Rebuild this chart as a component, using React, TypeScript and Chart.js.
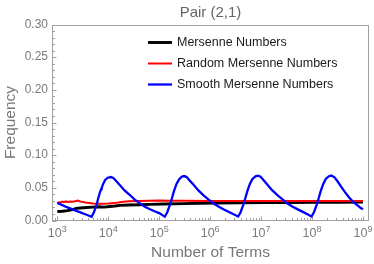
import React, { useEffect, useRef } from "react";
import { Chart, registerables } from "chart.js";

Chart.register(...registerables);

// ---- data (x given as log10 of number of terms) ----
const mersenneLogX = [3.0, 3.1, 3.2, 3.3, 3.37, 3.45, 3.57, 3.7, 3.83, 3.92, 4.03, 4.13, 4.23, 4.4, 4.6, 4.82, 5.1, 5.47, 5.8, 6.12, 6.6, 7.1, 7.6, 8.08, 8.5, 9.0];
const mersenneY = [0.0138, 0.0142, 0.0152, 0.0168, 0.0186, 0.0192, 0.02, 0.0205, 0.021, 0.0205, 0.0215, 0.0222, 0.0232, 0.0238, 0.0242, 0.0247, 0.0252, 0.0258, 0.0263, 0.0268, 0.0271, 0.0273, 0.0276, 0.0278, 0.028, 0.0283];

const randomLogX = [3.0, 3.03, 3.06, 3.1, 3.13, 3.17, 3.2, 3.25, 3.3, 3.35, 3.4, 3.45, 3.5, 3.55, 3.6, 3.7, 3.8, 3.9, 4.0, 4.1, 4.2, 4.3, 4.4, 4.6, 4.8, 5.0, 5.2, 5.5, 6.0, 7.0, 8.0, 9.0];
const randomY = [0.0265, 0.028, 0.0275, 0.029, 0.028, 0.0292, 0.0285, 0.029, 0.0288, 0.0296, 0.0305, 0.0292, 0.0285, 0.0275, 0.027, 0.026, 0.0256, 0.0258, 0.026, 0.0266, 0.0275, 0.0288, 0.0293, 0.0298, 0.0303, 0.0306, 0.0303, 0.0301, 0.0299, 0.0298, 0.0298, 0.0298];

const smoothLogX = [
  3.0, 3.2, 3.4, 3.55, 3.674,
  3.72, 3.77, 3.8, 3.84, 3.86, 3.87, 3.9, 3.94, 3.99, 4.05, 4.1, 4.16, 4.23, 4.32, 4.425, 4.52, 4.62, 4.72, 4.82, 4.92, 5.01, 5.07, 5.11,
  5.16, 5.21, 5.25, 5.29, 5.34, 5.39, 5.44, 5.49, 5.54, 5.6, 5.67, 5.77, 5.87, 5.97, 6.07, 6.17, 6.27, 6.37, 6.46, 6.55,
  6.6, 6.65, 6.69, 6.73, 6.78, 6.83, 6.89, 6.94, 6.99, 7.05, 7.12, 7.22, 7.32, 7.42, 7.52, 7.62, 7.72, 7.82, 7.91, 7.99,
  8.04, 8.09, 8.13, 8.17, 8.22, 8.27, 8.33, 8.38, 8.44, 8.5, 8.57, 8.65, 8.72, 8.8, 8.88, 8.95, 9.0,
];
const smoothY = [
  0.027, 0.02, 0.014, 0.0095, 0.0058,
  0.013, 0.024, 0.033, 0.044, 0.048, 0.0495, 0.056, 0.062, 0.0655, 0.0665, 0.065, 0.06, 0.054, 0.046, 0.039, 0.032, 0.0263, 0.021, 0.0172, 0.0138, 0.011, 0.0078, 0.0058,
  0.013, 0.024, 0.034, 0.045, 0.056, 0.063, 0.067, 0.068, 0.0665, 0.061, 0.055, 0.046, 0.0385, 0.032, 0.026, 0.021, 0.0168, 0.013, 0.0095, 0.0062,
  0.013, 0.024, 0.034, 0.045, 0.056, 0.0635, 0.0675, 0.0685, 0.067, 0.0615, 0.055, 0.046, 0.039, 0.0325, 0.026, 0.021, 0.017, 0.0132, 0.0095, 0.0062,
  0.013, 0.024, 0.034, 0.045, 0.056, 0.0635, 0.0678, 0.0688, 0.066, 0.06, 0.052, 0.043, 0.036, 0.029, 0.024, 0.0195, 0.0172,
];

const seriesNames = ["Mersenne Numbers", "Random Mersenne Numbers", "Smooth Mersenne Numbers"];
const seriesColors = ["#000000", "#ff0000", "#0000ff"];
const seriesWidths = [2.9, 2.0, 2.3];
const xTickExponents = [3, 4, 5, 6, 7, 8, 9];
const yTickValues = [0, 0.05, 0.1, 0.15, 0.2, 0.25, 0.3];
const chartTitle = "Pair (2,1)";
const xTitle = "Number of Terms";
const yTitle = "Frequency";

const FONT = "'Liberation Sans', Arial, sans-serif";

const toPoints = (lx: number[], ys: number[]) => lx.map((l, i) => ({ x: Math.pow(10, l), y: ys[i] }));

const decorPlugin = {
  id: "decor",
  beforeDatasetsDraw(chart: any) {
    const { ctx, chartArea } = chart;
    const xs = chart.scales.x;
    const ys = chart.scales.y;
    const l = Math.round(chartArea.left) + 0.5;
    const r = Math.round(chartArea.right) - 0.5;
    const t = Math.round(chartArea.top) + 0.5;
    const b = Math.round(chartArea.bottom) - 0.5;
    ctx.save();
    ctx.strokeStyle = "#a0a0a0";
    ctx.lineWidth = 1;
    ctx.strokeRect(l, t, r - l, b - t);
    ctx.beginPath();
    for (let i = 0; i <= 30; i++) {
      const py = Math.round(ys.getPixelForValue(i / 100)) + 0.5;
      const len = i % 5 === 0 ? 4 : 2.5;
      ctx.moveTo(l, py);
      ctx.lineTo(l + len, py);
    }
    const minors = [8e2, 9e2];
    for (let e = 3; e <= 8; e++) for (let m = 2; m <= 9; m++) minors.push(m * Math.pow(10, e));
    for (const v of minors) {
      const px = Math.round(xs.getPixelForValue(v)) + 0.5;
      ctx.moveTo(px, b);
      ctx.lineTo(px, b - 2.5);
    }
    for (const e of xTickExponents) {
      const px = Math.round(xs.getPixelForValue(Math.pow(10, e))) + 0.5;
      ctx.moveTo(px, b);
      ctx.lineTo(px, b - 4);
    }
    ctx.stroke();
    ctx.restore();
  },
  afterDraw(chart: any) {
    const { ctx, chartArea } = chart;
    const xs = chart.scales.x;
    ctx.save();
    ctx.fillStyle = "#666666";
    ctx.font = `15px ${FONT}`;
    ctx.textAlign = "center";
    ctx.textBaseline = "alphabetic";
    ctx.fillText(chartTitle, (chartArea.left + chartArea.right) / 2, 16.5);
    ctx.fillStyle = "#7a7a7a";
    ctx.textAlign = "left";
    for (const e of xTickExponents) {
      const px = xs.getPixelForValue(Math.pow(10, e));
      ctx.font = `12.5px ${FONT}`;
      const w1 = ctx.measureText("10").width;
      ctx.font = `9px ${FONT}`;
      const w2 = ctx.measureText(String(e)).width;
      const x0 = px - (w1 + w2) / 2;
      ctx.font = `12.5px ${FONT}`;
      ctx.fillText("10", x0, 236.5);
      ctx.font = `9px ${FONT}`;
      ctx.fillText(String(e), x0 + w1, 231.5);
    }
    ctx.textBaseline = "middle";
    ctx.font = `12.5px ${FONT}`;
    seriesNames.forEach((name, i) => {
      const y = 42.5 + i * 21;
      ctx.strokeStyle = seriesColors[i];
      ctx.lineWidth = seriesWidths[i];
      ctx.beginPath();
      ctx.moveTo(148, y);
      ctx.lineTo(172, y);
      ctx.stroke();
      ctx.fillStyle = "#1a1a1a";
      ctx.fillText(name, 177, y);
    });
    ctx.restore();
  },
};

export default function App() {
  const ref = useRef<HTMLCanvasElement | null>(null);
  useEffect(() => {
    if (!ref.current) return;
    const data = [
      toPoints(mersenneLogX, mersenneY),
      toPoints(randomLogX, randomY),
      toPoints(smoothLogX, smoothY),
    ];
    const chart = new Chart(ref.current, {
      type: "line",
      data: {
        datasets: seriesNames.map((name, i) => ({
          label: name,
          data: data[i],
          borderColor: seriesColors[i],
          backgroundColor: seriesColors[i],
          borderWidth: seriesWidths[i],
          pointRadius: 0,
          tension: 0,
          fill: false,
          order: 3 - i,
        })),
      },
      options: {
        animation: false,
        responsive: false,
        maintainAspectRatio: false,
        layout: { padding: { left: 0, right: 5, top: 24.5, bottom: 0 } },
        plugins: {
          legend: { display: false },
          title: { display: false },
          tooltip: { enabled: false },
        },
        scales: {
          x: {
            type: "logarithmic",
            min: Math.pow(10, 2.896),
            max: Math.pow(10, 9.118),
            grid: { display: false, drawTicks: false },
            border: { display: false },
            ticks: { display: false },
            afterFit: (s: any) => {
              s.height = 43.5;
            },
            title: {
              display: true,
              text: xTitle,
              color: "#777777",
              font: { family: FONT, size: 15.5 },
              padding: { top: 0, bottom: 1.5 },
            },
          },
          y: {
            type: "linear",
            min: 0,
            max: 0.3,
            grid: { display: false, drawTicks: false },
            border: { display: false },
            afterBuildTicks: (s: any) => {
              s.ticks = yTickValues.map((v) => ({ value: v }));
            },
            ticks: {
              color: "#7a7a7a",
              font: { family: FONT, size: 12 },
              padding: 4,
              callback: (v: any) => Number(v).toFixed(2),
            },
            afterFit: (s: any) => {
              s.width = 52;
            },
            title: {
              display: true,
              text: yTitle,
              color: "#777777",
              font: { family: FONT, size: 15.5 },
              padding: { top: 1, bottom: 0 },
            },
          },
        },
      },
      plugins: [decorPlugin],
    });
    return () => chart.destroy();
  }, []);
  return (
    <div style={{ position: "absolute", left: 0, top: 0, width: 374, height: 264 }}>
      <canvas ref={ref} width={374} height={264} style={{ display: "block" }} />
    </div>
  );
}
